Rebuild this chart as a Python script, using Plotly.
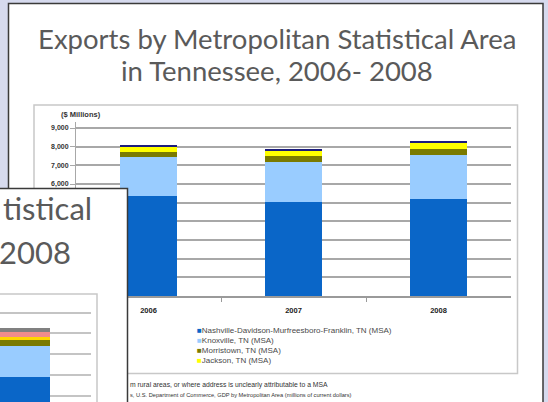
import plotly.graph_objects as go

W, H = 548, 402


def px(x):
    return x / W


def py(y):
    return 1 - y / H


# ---------------- data (main chart) ----------------
years = ["2006", "2007", "2008"]
nashville = [5360, 5040, 5220]
knoxville = [2060, 2140, 2360]
morristown = [300, 300, 320]
jackson = [270, 280, 270]
other = [90, 130, 140]

series_names = [
    "Nashville-Davidson-Murfreesboro-Franklin, TN (MSA)",
    "Knoxville, TN (MSA)",
    "Morristown, TN (MSA)",
    "Jackson, TN (MSA)",
    "Other",
]
series_values = [nashville, knoxville, morristown, jackson, other]
series_colors = ["#0a66c8", "#99ccff", "#7a7a00", "#ffff00", "#1c1c7c"]
legend_count = 4

y_ticks = [0, 1000, 2000, 3000, 4000, 5000, 6000, 7000, 8000, 9000]
# labels below 6,000 are hidden behind the overlapping slide in the original
y_tick_labels = ["", "", "", "", "", "", "6,000", "7,000", "8,000", "9,000"]

# ---------------- data (partially hidden second slide) ----------------
inset_values = [5890, 1500, 290, 145, 240, 190]
inset_colors = ["#0a66c8", "#99ccff", "#7a7a00", "#ffd700", "#f08c8c", "#808080"]
inset_ticks = [5000, 6000, 7000, 8000, 9000]

title_lines = ["Exports by Metropolitan Statistical Area",
               "in Tennessee, 2006- 2008"]
footnotes = ["m rural areas, or where address is unclearly attributable to a MSA",
             "s, U.S. Department of Commerce, GDP by Metropolitan Area (millions of current dollars)"]

fig = go.Figure()

# main stacked bars
for name, vals, col in zip(series_names, series_values, series_colors):
    fig.add_trace(go.Bar(x=years, y=vals, name=name, marker_color=col,
                         marker_line_width=0, showlegend=False,
                         xaxis="x", yaxis="y"))

# covering panel of the second slide (drawn in its own subplot, on top)
fig.add_trace(go.Scatter(x=[0, 127.5, 127.5, 0, 0], y=[0, 0, 213.5, 213.5, 0],
                         fill="toself", fillcolor="white", mode="lines",
                         line=dict(width=0), showlegend=False, hoverinfo="skip",
                         xaxis="x2", yaxis="y2"))
fig.add_trace(go.Scatter(x=[0, 97, 97], y=[108, 108, 0], mode="lines",
                         line=dict(color="#c8c8c8", width=1.5), showlegend=False,
                         hoverinfo="skip", xaxis="x2", yaxis="y2"))
fig.add_trace(go.Scatter(x=[0, 127.5, 127.5], y=[213.5, 213.5, 0], mode="lines",
                         line=dict(color="#3a3a3a", width=1.5), showlegend=False,
                         hoverinfo="skip", xaxis="x2", yaxis="y2"))

# inset bar
for v, col in zip(inset_values, inset_colors):
    fig.add_trace(go.Bar(x=[20], y=[v], width=60, marker_color=col,
                         marker_line_width=0, showlegend=False,
                         xaxis="x3", yaxis="y3"))

small = dict(family="Liberation Sans, Arial, sans-serif")

fig.update_layout(
    width=W, height=H,
    margin=dict(l=0, r=0, t=0, b=0),
    paper_bgcolor="#d6daee",
    plot_bgcolor="rgba(0,0,0,0)",
    barmode="stack",
    bargap=0.61,
    xaxis=dict(domain=[px(76), px(511)], type="category", range=[-0.5, 2.5],
               showline=True, linecolor="#9a9a9a", linewidth=1.5,
               ticks="outside", tickson="boundaries", ticklen=4,
               tickcolor="#9a9a9a", showgrid=False, ticklabelstandoff=6,
               tickfont=dict(size=7.5, color="#222", weight="bold", **small)),
    yaxis=dict(domain=[py(296), py(122.4)], range=[0, 9300],
               tickvals=y_ticks, ticktext=y_tick_labels,
               showgrid=True, gridcolor="#a8a8a8", gridwidth=1.5,
               zeroline=False, showline=True, linecolor="#a8a8a8",
               ticks="outside", ticklen=5, tickcolor="#a8a8a8",
               tickfont=dict(size=7, color="#333", weight="bold", **small)),
    xaxis2=dict(domain=[0, px(130)], range=[0, 130], visible=False,
                anchor="y2"),
    yaxis2=dict(domain=[0, py(186)], range=[0, 216], visible=False,
                anchor="x2"),
    xaxis3=dict(domain=[0, px(91)], range=[0, 91], visible=False,
                anchor="y3"),
    yaxis3=dict(domain=[0, py(306.8)], range=[4686, 9285], anchor="x3",
                tickvals=inset_ticks, showticklabels=False, showgrid=True,
                gridcolor="#c4c4c4", gridwidth=1.5, zeroline=False,
                showline=False, ticks=""),
    barcornerradius=0,
)

# slide frame and chart box (below everything)
fig.add_shape(type="rect", xref="paper", yref="paper",
              x0=px(8.5), x1=px(543), y0=py(420), y1=py(3.5),
              fillcolor="white", line=dict(color="#3a3a3a", width=1.5),
              layer="below")
fig.add_shape(type="rect", xref="paper", yref="paper",
              x0=px(34), x1=px(517.5), y0=py(373.5), y1=py(105),
              fillcolor="white", line=dict(color="#c8c8c8", width=1.5),
              layer="below")

# title
for t, yy in zip(title_lines, [38, 70]):
    fig.add_annotation(text=t, x=px(276.5), y=py(yy), xref="paper", yref="paper",
                       showarrow=False, xanchor="center", yanchor="middle",
                       font=dict(family="Lato", size=27.5, color="#5a5a5a"))

fig.add_annotation(text="($ Millions)", x=px(81), y=py(115), xref="paper",
                   yref="paper", showarrow=False, xanchor="center",
                   yanchor="middle",
                   font=dict(size=7.5, color="#333", weight="bold", **small))

# legend (compact, as in the original)
for i in range(legend_count):
    txt = (f"<span style='color:{series_colors[i]}'>■</span>"
           f"{series_names[i]}")
    fig.add_annotation(text=txt, x=px(195), y=py(330 + 10 * i), xref="paper",
                       yref="paper", showarrow=False, xanchor="left",
                       yanchor="middle",
                       font=dict(size=8, color="#4a4a4a", **small))

# footnotes
for t, yy, fs in zip(footnotes, [385, 395], [6.8, 5.7]):
    fig.add_annotation(text=t, x=px(128), y=py(yy), xref="paper",
                       yref="paper", showarrow=False, xanchor="left",
                       yanchor="middle",
                       font=dict(size=fs, color="#333", **small))

# second slide title fragments
fig.add_annotation(text="tistical", x=0.002, y=py(208), xref="paper",
                   yref="paper", showarrow=False, xanchor="left",
                   yanchor="middle",
                   font=dict(family="Lato", size=31, color="#5a5a5a"))
fig.add_annotation(text="2008", x=px(73), y=py(252), xref="paper",
                   yref="paper", showarrow=False, xanchor="right",
                   yanchor="middle",
                   font=dict(family="Lato", size=31, color="#5a5a5a"))

fig.write_html("out.html")
